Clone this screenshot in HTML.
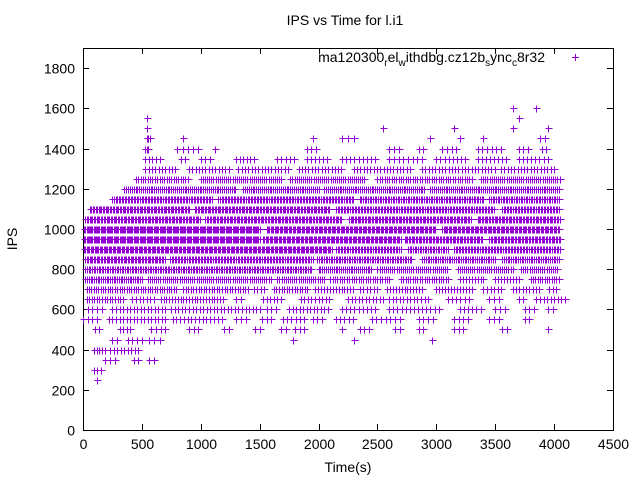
<!DOCTYPE html>
<html><head><meta charset="utf-8"><style>
body{margin:0;background:#fff}
svg{display:block}
text{font-family:"Liberation Sans",sans-serif;fill:#000}
</style></head><body>
<svg id="chart" width="640" height="480" viewBox="0 0 640 480" xmlns="http://www.w3.org/2000/svg">
<text x="345" y="25" font-size="14" text-anchor="middle">IPS vs Time for l.i1</text>
<rect x="83.5" y="48.5" width="530" height="382" fill="none" stroke="#000" stroke-width="1" shape-rendering="crispEdges"/>
<g id="axes"></g>
<g id="points"></g>
<text transform="translate(17,239) rotate(-90)" font-size="14" text-anchor="middle">IPS</text>
<text x="348" y="472" font-size="14" text-anchor="middle">Time(s)</text>
<g>
<text x="545" y="62" font-size="14" text-anchor="end">ma120300<tspan font-size="10" dy="4">r</tspan><tspan dy="-4">el</tspan><tspan font-size="10" dy="4">w</tspan><tspan dy="-4">ithdbg.cz12b</tspan><tspan font-size="10" dy="4">s</tspan><tspan dy="-4">ync</tspan><tspan font-size="10" dy="4">c</tspan><tspan dy="-4">8r32</tspan></text>
<path d="M572 57.5h7M575.5 54v7" stroke="#9400d3" stroke-width="1" shape-rendering="crispEdges"/>
</g>
</svg>
<script>
const xTicks=[0,500,1000,1500,2000,2500,3000,3500,4000,4500];
const yTicks=[0,200,400,600,800,1000,1200,1400,1600,1800];
// IPS levels and the time segments [start,end,spacing] where samples appear
const levels=[250,300,350,400,450,500,550,600,650,700,750,800,850,900,950,1000,1050,1100,1150,1200,1250,1300,1350,1400,1450,1500,1550,1600];
const segments=[
 [[120,120,40]],
 [[90,170,30]],
 [[190,300,40],[430,470,40],[560,600,40]],
 [[90,200,25],[230,470,30]],
 [[250,300,40],[380,500,40],[560,690,45],[1780,1780,40],[2300,2300,40],[2960,2960,40]],
 [[100,140,40],[310,420,30],[580,700,40],[900,1000,40],[1200,1260,40],[1460,1500,40],[1680,1720,40],[1800,1900,40],[2200,2230,40],[2350,2450,40],[2650,2700,40],[2850,2900,40],[3150,3250,40],[3560,3600,40],[3950,3950,40]],
 [[0,150,40],[220,700,30],[760,1200,32],[1300,1400,40],[1520,1600,40],[1700,1880,35],[1950,2050,40],[2150,2300,35],[2450,2700,40],[2850,3000,40],[3150,3300,40],[3450,3550,40],[3750,3800,40]],
 [[40,160,40],[250,700,30],[750,1500,30],[1560,1650,40],[1750,2100,30],[2200,2500,35],[2600,3050,35],[3200,3400,35],[3500,3600,40],[3750,3850,40],[3950,4000,40]],
 [[30,350,22],[420,600,30],[660,1200,24],[1300,1370,40],[1530,1700,30],[1850,2100,30],[2250,2550,30],[2600,2950,30],[3100,3300,35],[3450,3550,40],[3700,3750,40],[3850,4090,30]],
 [[30,800,20],[850,1400,22],[1450,1550,30],[1620,1920,22],[1970,2300,25],[2350,2500,30],[2580,2900,25],[3000,3300,25],[3400,3550,30],[3650,3900,28],[3960,4040,30]],
 [[20,500,15],[550,1600,18],[1650,2050,18],[2100,2600,20],[2700,3100,20],[3200,3400,25],[3500,3700,25],[3800,4050,20]],
 [[20,1950,14],[2000,2450,16],[2500,3100,18],[3180,3650,18],[3720,4040,18]],
 [[20,700,12],[740,1950,13],[1990,2800,14],[2880,3500,15],[3560,4040,15]],
 [[10,2120,11],[2150,2700,13],[2760,3100,14],[3150,4050,13]],
 [[10,1500,10],[1530,2700,11],[2730,3400,12],[3450,4050,12]],
 [[10,1500,10],[1560,3000,11],[3050,4050,11]],
 [[20,1000,12],[1040,2200,12],[2260,3300,12],[3350,4050,12]],
 [[60,900,12],[950,2100,12],[2150,3500,13],[3560,4050,13]],
 [[250,1100,13],[1150,2300,13],[2350,3400,14],[3450,4050,14]],
 [[350,1300,16],[1360,2000,16],[2050,2900,16],[2950,4050,16]],
 [[450,900,20],[1000,1700,18],[1760,2400,18],[2500,3300,20],[3380,4050,18]],
 [[530,800,28],[900,1250,28],[1320,1750,28],[1830,2200,28],[2300,2800,28],[2880,3500,28],[3550,4000,28]],
 [[530,650,30],[830,900,40],[1000,1100,40],[1300,1450,30],[1650,1800,35],[1900,2100,35],[2200,2500,35],[2600,2900,40],[3000,3250,35],[3350,3600,35],[3700,3950,35]],
 [[530,560,12],[800,1000,45],[1120,1150,40],[1900,2000,40],[2600,2700,40],[2850,2900,40],[3050,3200,40],[3350,3550,40],[3700,3800,40],[3900,3950,30]],
 [[540,570,15],[850,850,40],[1950,1950,40],[2200,2300,50],[2950,2950,40],[3200,3200,40],[3400,3400,40],[3880,3950,40]],
 [[540,540,40],[2550,2550,40],[3150,3150,40],[3650,3650,40],[3950,3950,40]],
 [[540,540,40],[3700,3700,40]],
 [[3650,3650,40],[3850,3850,40]]
];
const X0=83,X1=613,Y0=430,Y1=48,XMAX=4500,YMAX=1900;
function sx(t){return X0+t/XMAX*(X1-X0);}
function sy(v){return Y0-v/YMAX*(Y0-Y1);}
const NS="http://www.w3.org/2000/svg";
const axes=document.getElementById('axes');
let ad="";
xTicks.forEach(t=>{
 const x=Math.round(sx(t))+0.5;
 ad+=`M${x} ${Y0}v-6M${x} ${Y1}v6`;
 const tx=document.createElementNS(NS,'text');
 
 
 tx.setAttribute('x',x);tx.setAttribute('y',Y0+19);tx.setAttribute('font-size','14');tx.setAttribute('text-anchor','middle');
 tx.textContent=t;axes.appendChild(tx);
});
yTicks.forEach(v=>{
 const y=Math.round(sy(v))+0.5;
 ad+=`M${X0} ${y}h6M${X1} ${y}h-6`;
 const tx=document.createElementNS(NS,'text');
 
 
 tx.setAttribute('x',X0-8);tx.setAttribute('y',y+5);tx.setAttribute('font-size','14');tx.setAttribute('text-anchor','end');
 tx.textContent=v;axes.appendChild(tx);
});
const tp=document.createElementNS(NS,'path');


tp.setAttribute('d',ad);tp.setAttribute('stroke','#000');tp.setAttribute('fill','none');
tp.setAttribute('shape-rendering','crispEdges');
axes.appendChild(tp);
let pd="";
levels.forEach((lv,i)=>{
 const y=Math.round(sy(lv));
 segments[i].forEach(s=>{
  for(let t=s[0];t<=s[1];t+=s[2]){
   const x=Math.round(sx(t));
   pd+=`M${x-3} ${y}h7M${x} ${y-3}v7`;
  }
 });
});
const pp=document.createElementNS(NS,'path');


pp.setAttribute('d',pd);pp.setAttribute('stroke','#9400d3');pp.setAttribute('fill','none');
pp.setAttribute('shape-rendering','crispEdges');
pp.setAttribute('transform','translate(0.5,0.5)');
document.getElementById('points').appendChild(pp);
</script>
</body></html>
